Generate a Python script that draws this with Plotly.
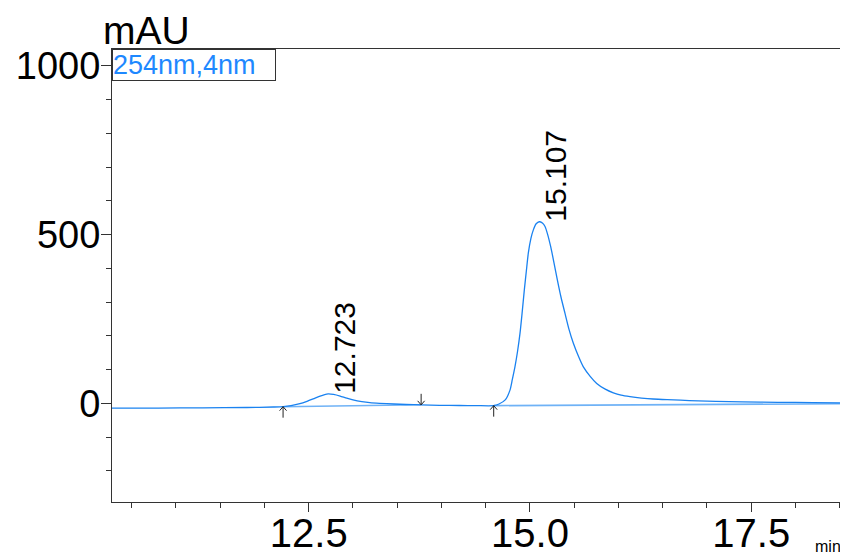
import plotly.graph_objects as go

# ---- data ----
time_min = [10.277, 10.8, 11.3, 11.8, 12.1, 12.21, 12.3, 12.40, 12.48, 12.55, 12.62, 12.68, 12.72,
            12.78, 12.855, 12.93, 13.0, 13.1, 13.19, 13.3, 13.46, 13.6, 13.77, 13.98, 14.2, 14.4,
            14.59, 14.65, 14.72, 14.774, 14.80, 14.83, 14.86, 14.887, 14.91, 14.936, 14.96, 14.981,
            15.01, 15.038, 15.07, 15.105, 15.14, 15.17, 15.2, 15.234, 15.27, 15.309, 15.35, 15.395,
            15.44, 15.49, 15.55, 15.603, 15.68, 15.754, 15.85, 15.942, 16.03, 16.13, 16.26, 16.39,
            16.55, 16.7, 16.9, 17.1, 17.4, 17.8, 18.2, 18.582]
absorb_mau = [-14.5, -14, -13.5, -12.5, -11, -10, -7, -1, 6, 13, 20.5, 26, 28,
              26.5, 21.5, 15, 10, 5, 2, 0, -2, -3.5, -4.5, -6, -6.5, -7,
              -7, -2, 10, 39, 70, 108, 155, 207, 265, 336, 395, 445,
              488, 514, 532, 538, 534, 524, 500, 464, 418, 366, 315, 267,
              220, 178, 138, 108, 80, 59, 42, 31, 24, 19.6, 15.5, 12.7,
              10.8, 9.5, 7, 5.5, 4, 3, 2, 1.2]

# integration baselines (start/end of each segment)
base1_t = [12.21, 13.77]
base1_v = [-10, -4.5]
base2_t = [14.59, 18.582]
base2_v = [-7, -1.2]

# integration markers: time, signal level, direction
mark_t = [12.21, 13.77, 14.59]
mark_v = [-10, -4.5, -7]
mark_dir = ["up", "down", "up"]

# peaks
peak_t = [12.723, 15.107]
peak_v = [28, 538]

x_range = [10.277, 18.582]
y_range = [-292.5, 1050]
channel_label = "254nm,4nm"
y_unit = "mAU"
x_unit = "min"

BLUE = "#1e88ff"
AXC = "#333333"
FONT = "Liberation Sans, Arial, sans-serif"

fig = go.Figure()
fig.add_trace(go.Scatter(x=base1_t, y=base1_v, mode="lines",
                         line=dict(color="#6fb2f6", width=1.6), hoverinfo="skip"))
fig.add_trace(go.Scatter(x=base2_t, y=base2_v, mode="lines",
                         line=dict(color="#6fb2f6", width=1.6), hoverinfo="skip"))
fig.add_trace(go.Scatter(x=time_min, y=absorb_mau, mode="lines",
                         line=dict(color="#1a82f0", width=1.3, shape="spline", smoothing=0.6)))

shapes = []
for t, v, d in zip(mark_t, mark_v, mark_dir):
    if d == "up":
        path = "M0,0 L0,-11 M-3.5,-4 L0,0 L3.5,-4"
    else:
        path = "M0,0 L0,11 M-3.5,4 L0,0 L3.5,4"
    shapes.append(dict(type="path", xref="x", yref="y", xsizemode="pixel", ysizemode="pixel",
                       xanchor=t, yanchor=v, path=path,
                       line=dict(color="#222222", width=1)))

annotations = []
for t, v in zip(peak_t, peak_v):
    annotations.append(dict(x=t, y=v, xref="x", yref="y", text=f"{t:.3f}", showarrow=False,
                            textangle=-90, xanchor="left", yanchor="bottom", xshift=-2, yshift=-2,
                            font=dict(family=FONT, size=30, color="black")))

annotations.append(dict(x=0, y=1, xref="paper", yref="paper", text=channel_label, showarrow=False,
                        xanchor="left", yanchor="top", align="left", width=162, height=30,
                        borderpad=0, bordercolor=AXC, borderwidth=1, bgcolor="white",
                        font=dict(family=FONT, size=27, color=BLUE)))
annotations.append(dict(x=0, y=1, xref="paper", yref="paper", text=y_unit, showarrow=False,
                        xanchor="left", yanchor="bottom", xshift=-11, yshift=-5,
                        font=dict(family=FONT, size=39, color="black")))
annotations.append(dict(x=1, y=0, xref="paper", yref="paper", text=x_unit, showarrow=False,
                        xanchor="right", yanchor="top", xshift=-4, yshift=-34,
                        font=dict(family=FONT, size=16, color="black")))

# the page body adds an 8px offset; size the figure so the plot area lands where the reference has it
fig.update_layout(
    width=840, height=550,
    margin=dict(l=104, r=1, t=41, b=56),
    plot_bgcolor="white", paper_bgcolor="white",
    showlegend=False,
    shapes=shapes, annotations=annotations,
    font=dict(family=FONT, color="black"),
)
fig.update_xaxes(range=x_range, showgrid=False, zeroline=False,
                 showline=True, linecolor=AXC, linewidth=1, mirror=True,
                 ticks="outside", ticklen=9, tickcolor=AXC, tickwidth=1,
                 tick0=0, dtick=2.5, tickformat=".1f", ticklabelstandoff=-13,
                 tickfont=dict(family=FONT, size=40, color="black"),
                 minor=dict(dtick=0.5, tick0=0, ticks="outside", ticklen=5, tickcolor=AXC),
                 automargin=False)
fig.update_yaxes(range=y_range, showgrid=False, zeroline=False,
                 showline=True, linecolor=AXC, linewidth=1, mirror=True,
                 ticks="outside", ticklen=10, tickcolor=AXC, tickwidth=1,
                 tick0=0, dtick=500, ticklabelstandoff=-7,
                 tickfont=dict(family=FONT, size=38, color="black"),
                 minor=dict(dtick=100, tick0=0, ticks="outside", ticklen=5, tickcolor=AXC),
                 automargin=False)

fig.write_html("out.html")
